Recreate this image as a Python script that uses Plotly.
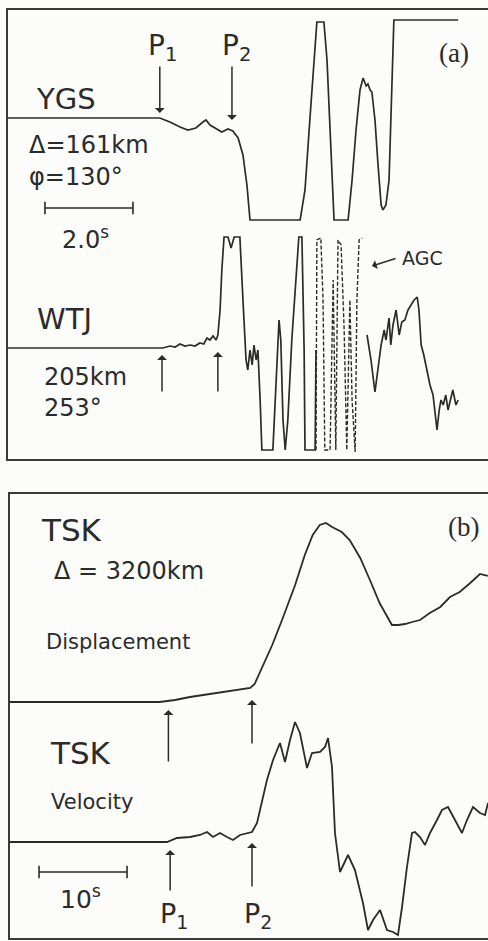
import plotly.graph_objects as go

# ---------------- data (time in s, amplitude in trace units) ----------------
# Panel (a): near stations, 44 px per second on the record
ygs_t = [0, 3.45, 3.68, 3.91, 4.09, 4.27, 4.43, 4.50, 4.59, 4.73, 4.86, 5.00, 5.11, 5.23,
         5.34, 5.43, 5.50, 6.64, 6.75, 6.86, 6.95, 7.02, 7.18, 7.25, 7.32, 7.41, 7.73,
         7.82, 7.91, 8.00, 8.07, 8.14, 8.18, 8.23, 8.27, 8.34, 8.41, 8.48, 8.52, 8.59,
         8.66, 8.70, 8.75, 8.77, 10.23]
ygs_a = [0, 0, -0.4, -0.9, -1.2, -1.0, -0.4, -0.2, -0.7, -1.1, -1.4, -1.1, -1.3, -2.0,
         -3.7, -6.7, -10.2, -10.2, -7.2, -0.2, 5.8, 9.6, 9.6, 5.8, -1.2, -10.2, -10.2,
         -6.2, -1.2, 2.8, 4.0, 3.2, 3.4, 2.8, 2.6, -0.2, -4.7, -8.7, -9.2, -8.7,
         -6.2, -0.2, 7.8, 9.8, 9.8]

wtj_t = [0, 3.52, 3.68, 3.80, 3.91, 4.02, 4.14, 4.25, 4.36, 4.45, 4.52, 4.59, 4.66, 4.73,
         4.77, 4.82, 4.86, 4.91, 5.00, 5.07, 5.14, 5.27, 5.34, 5.41, 5.45, 5.50, 5.55,
         5.59, 5.64, 5.68, 5.73, 5.77, 6.02, 6.09, 6.16, 6.20, 6.25, 6.30, 6.36, 6.45,
         6.55, 6.61, 6.68, 6.73, 6.75, 6.98, 7.00]
wtj_a = [0, 0, 0.2, 0.1, 0.4, 0.2, 0.3, 0.2, 0.5, 0.4, 1.0, 0.8, 1.2, 0.8,
         1.3, 3.8, 7.8, 11.1, 11.1, 10.0, 11.1, 11.1, 4.8, -1.2, -2.2, -0.2, -1.7,
         0.3, -1.2, -0.2, -5.2, -10.2, -10.2, -3.2, 2.8, 0.8, -7.2, -10.2, -7.2, 0.8,
         6.8, 11.1, 11.1, -0.2, -10.2, -10.2, -0.2]

# AGC-affected (faint, broken) part of the WTJ record
agc_t = [7.00, 7.02, 7.11, 7.16, 7.20, 7.32, 7.39, 7.45, 7.50, 7.57, 7.64, 7.70, 7.77,
         7.82, 7.89, 7.93, 7.98, 8.05]
agc_a = [-10.2, 10.8, 11.0, 4.8, -10.2, -10.2, 6.8, -10.2, 10.8, 10.3, 1.8, -10.2, 4.8,
         -5.2, -10.4, 4.8, 10.8, 11.0]

wtj2_t = [8.16, 8.25, 8.34, 8.41, 8.48, 8.55, 8.59, 8.66, 8.70, 8.75, 8.82, 8.89, 8.95,
          9.02, 9.09, 9.16, 9.23, 9.30, 9.34, 9.39, 9.45, 9.52, 9.59, 9.66, 9.70, 9.75,
          9.80, 9.84, 9.89, 9.95, 10.00, 10.05, 10.11, 10.18, 10.23]
wtj2_a = [1.3, -1.2, -4.4, -2.2, 0.3, 1.8, 0.8, 3.0, 0.3, 2.3, 3.8, 1.3, 2.6,
          2.8, 3.8, 4.3, 4.8, 5.1, 3.8, 0.3, -0.7, -2.2, -3.7, -4.7, -6.2, -8.2,
          -6.2, -5.2, -5.7, -4.7, -6.2, -5.2, -4.2, -5.7, -5.2]

# Panel (b): TSK, 8.8 px per second on the record
disp_t = [0, 17.0, 18.75, 20.45, 22.7, 25.0, 27.3, 27.8, 28.6, 29.8, 31.0, 32.4, 33.5,
          34.4, 35.2, 35.9, 36.6, 37.7, 38.6, 39.8, 40.9, 42.0, 42.7, 43.4, 44.1, 44.9,
          45.7, 46.6, 47.7, 48.9, 50.0, 51.1, 52.3, 53.4, 54.3]
disp_a = [0, 0, 0.2, 0.5, 0.8, 1.1, 1.4, 1.8, 3.4, 5.7, 8.4, 11.7, 14.7,
          16.7, 17.7, 17.9, 17.5, 17.0, 16.2, 14.4, 12.2, 9.9, 8.8, 7.7, 7.7, 7.8,
          8.0, 8.2, 8.9, 9.5, 10.5, 11.0, 11.9, 12.8, 12.6]

vel_t = [0, 17.84, 18.98, 20.45, 21.59, 22.39, 23.07, 23.86, 24.66, 25.34, 26.14, 27.50,
         28.07, 28.64, 29.20, 29.89, 30.68, 31.25, 31.82, 32.39, 32.95, 33.75, 34.32,
         35.23, 35.80, 36.14, 36.59, 36.93, 37.50, 38.41, 39.20, 40.11, 40.68, 41.25,
         42.05, 42.84, 43.52, 44.09, 44.55, 45.11, 45.68, 46.02, 46.59, 47.16, 47.73,
         48.52, 49.09, 49.77, 50.57, 51.36, 51.93, 52.61, 53.41, 53.98, 54.32]
vel_a = [0, 0, 0.4, 0.5, 0.7, 1.0, 0.5, 0.9, 0.5, 0.2, 0.7, 1.0,
         1.9, 4.2, 6.2, 8.2, 9.9, 8.0, 10.2, 12.0, 10.9, 7.4, 8.9,
         9.0, 9.5, 10.4, 7.5, 0.9, -3.0, -1.3, -2.8, -6.1, -8.8, -7.8,
         -6.8, -8.8, -9.0, -9.3, -6.5, -2.5, 0.9, 1.0, 0.5, -0.3, 0.9,
         2.2, 3.2, 3.5, 2.2, 0.9, 2.2, 3.5, 2.9, 2.7, 3.9]

# phase arrival times (s)
ygs_p = [3.45, 5.09]
wtj_p = [3.50, 4.77]
tsk_p = [18.0, 27.5]

# trace baselines (layout positions, trace units)
YGS_OFF, WTJ_OFF = 34.1, 11.1
DISP_OFF, VEL_OFF = 23.6, 9.6

W, H = 488, 941
INK = "#2b2b2b"
FONT = "DejaVu Sans"

fig = go.Figure()


def add(t, a, off, xa, ya, dash="solid", width=1.7):
    fig.add_trace(go.Scatter(x=t, y=[v + off for v in a], mode="lines",
                             line=dict(color=INK, width=width, dash=dash),
                             xaxis=xa, yaxis=ya, showlegend=False, hoverinfo="skip"))


add(ygs_t, ygs_a, YGS_OFF, "x", "y")
add(wtj_t, wtj_a, WTJ_OFF, "x", "y")
add(agc_t, agc_a, WTJ_OFF, "x", "y", dash="4px,2px", width=1.4)
add(wtj2_t, wtj2_a, WTJ_OFF, "x", "y")
add(disp_t, disp_a, DISP_OFF, "x2", "y2", width=1.8)
add(vel_t, vel_a, VEL_OFF, "x2", "y2", width=1.8)

# time scale bars
fig.add_trace(go.Scatter(x=[0.84, 2.84], y=[25.1, 25.1], mode="lines+markers",
                         line=dict(color=INK, width=1.6),
                         marker=dict(symbol="line-ns-open", size=9, color=INK,
                                     line=dict(width=1.6, color=INK)),
                         xaxis="x", yaxis="y", showlegend=False, hoverinfo="skip"))
fig.add_trace(go.Scatter(x=[3.3, 13.3], y=[6.6, 6.6], mode="lines+markers",
                         line=dict(color=INK, width=1.6),
                         marker=dict(symbol="line-ns-open", size=9, color=INK,
                                     line=dict(width=1.6, color=INK)),
                         xaxis="x2", yaxis="y2", showlegend=False, hoverinfo="skip"))


def px(x):
    return x / W


def py(y):
    return 1 - y / H


ann = []


def text(s, x, y, size, serif=False, xanchor="center"):
    ann.append(dict(text=s, x=px(x), y=py(y), xref="paper", yref="paper",
                    showarrow=False, xanchor=xanchor, yanchor="middle",
                    font=dict(family="Liberation Serif" if serif else FONT,
                              size=size, color=INK)))


def arrow(t, xref, tip, tail):
    ann.append(dict(text="", x=t, y=py(tip), xref=xref, yref="paper",
                    ax=0, ay=tail - tip, showarrow=True, arrowhead=1,
                    arrowsize=1.1, arrowwidth=1.5, arrowcolor=INK))


# panel (a) labels
text("(a)", 454, 53, 27, serif=True)
text("P<sub>1</sub>", 162, 48, 28)
text("P<sub>2</sub>", 236, 48, 28)
text("YGS", 66, 99, 29)
text("Δ=161km", 27, 145, 24, xanchor="left")
text("φ=130°", 27, 177, 24, xanchor="left")
text("2.0<sup>s</sup>", 85, 238, 24)
text("WTJ", 64, 319, 29)
text("205km", 42, 377, 24, xanchor="left")
text("253°", 42, 408, 24, xanchor="left")
text("AGC", 400, 258, 19, xanchor="left")
ann.append(dict(text="", x=px(372), y=py(266), xref="paper", yref="paper",
                ax=25, ay=-8, showarrow=True, arrowhead=1, arrowsize=1.1,
                arrowwidth=1.4, arrowcolor=INK))
arrow(ygs_p[0], "x", 113, 65)
arrow(ygs_p[1], "x", 120, 65)
arrow(wtj_p[0], "x", 355, 393)
arrow(wtj_p[1], "x", 352, 393)

# panel (b) labels
text("(b)", 463, 527, 27, serif=True)
text("TSK", 71, 530, 31)
text("Δ = 3200km", 52, 571, 24, xanchor="left")
text("Displacement", 44, 642, 21, xanchor="left")
text("TSK", 80, 753, 31)
text("Velocity", 49, 802, 21, xanchor="left")
text("10<sup>s</sup>", 80, 897, 25)
text("P<sub>1</sub>", 174, 915, 27)
text("P<sub>2</sub>", 258, 915, 27)
arrow(tsk_p[0], "x2", 710, 763)
arrow(tsk_p[1], "x2", 700, 745)
arrow(tsk_p[0] + 0.2, "x2", 850, 892)
arrow(tsk_p[1], "x2", 843, 888)

frame = dict(showgrid=False, zeroline=False, showticklabels=False, ticks="",
             showline=True, linecolor="#3a3a3a", linewidth=1.6, fixedrange=True)

fig.update_layout(
    width=W, height=H, margin=dict(l=0, r=0, t=0, b=0),
    paper_bgcolor="#fcfcfa", plot_bgcolor="#fcfcfa",
    xaxis=dict(domain=[px(8), 1], range=[0, 480 / 44], anchor="y", mirror=True, **frame),
    yaxis=dict(domain=[py(459), py(10)], range=[0, 44.9], anchor="x", mirror=False, **frame),
    xaxis2=dict(domain=[px(10), 1], range=[0, 478 / 8.8], anchor="y2", mirror=True, **frame),
    yaxis2=dict(domain=[py(938), py(494)], range=[0, 44.4], anchor="x2", mirror=False, **frame),
    annotations=ann,
)

fig.write_html("out.html")
